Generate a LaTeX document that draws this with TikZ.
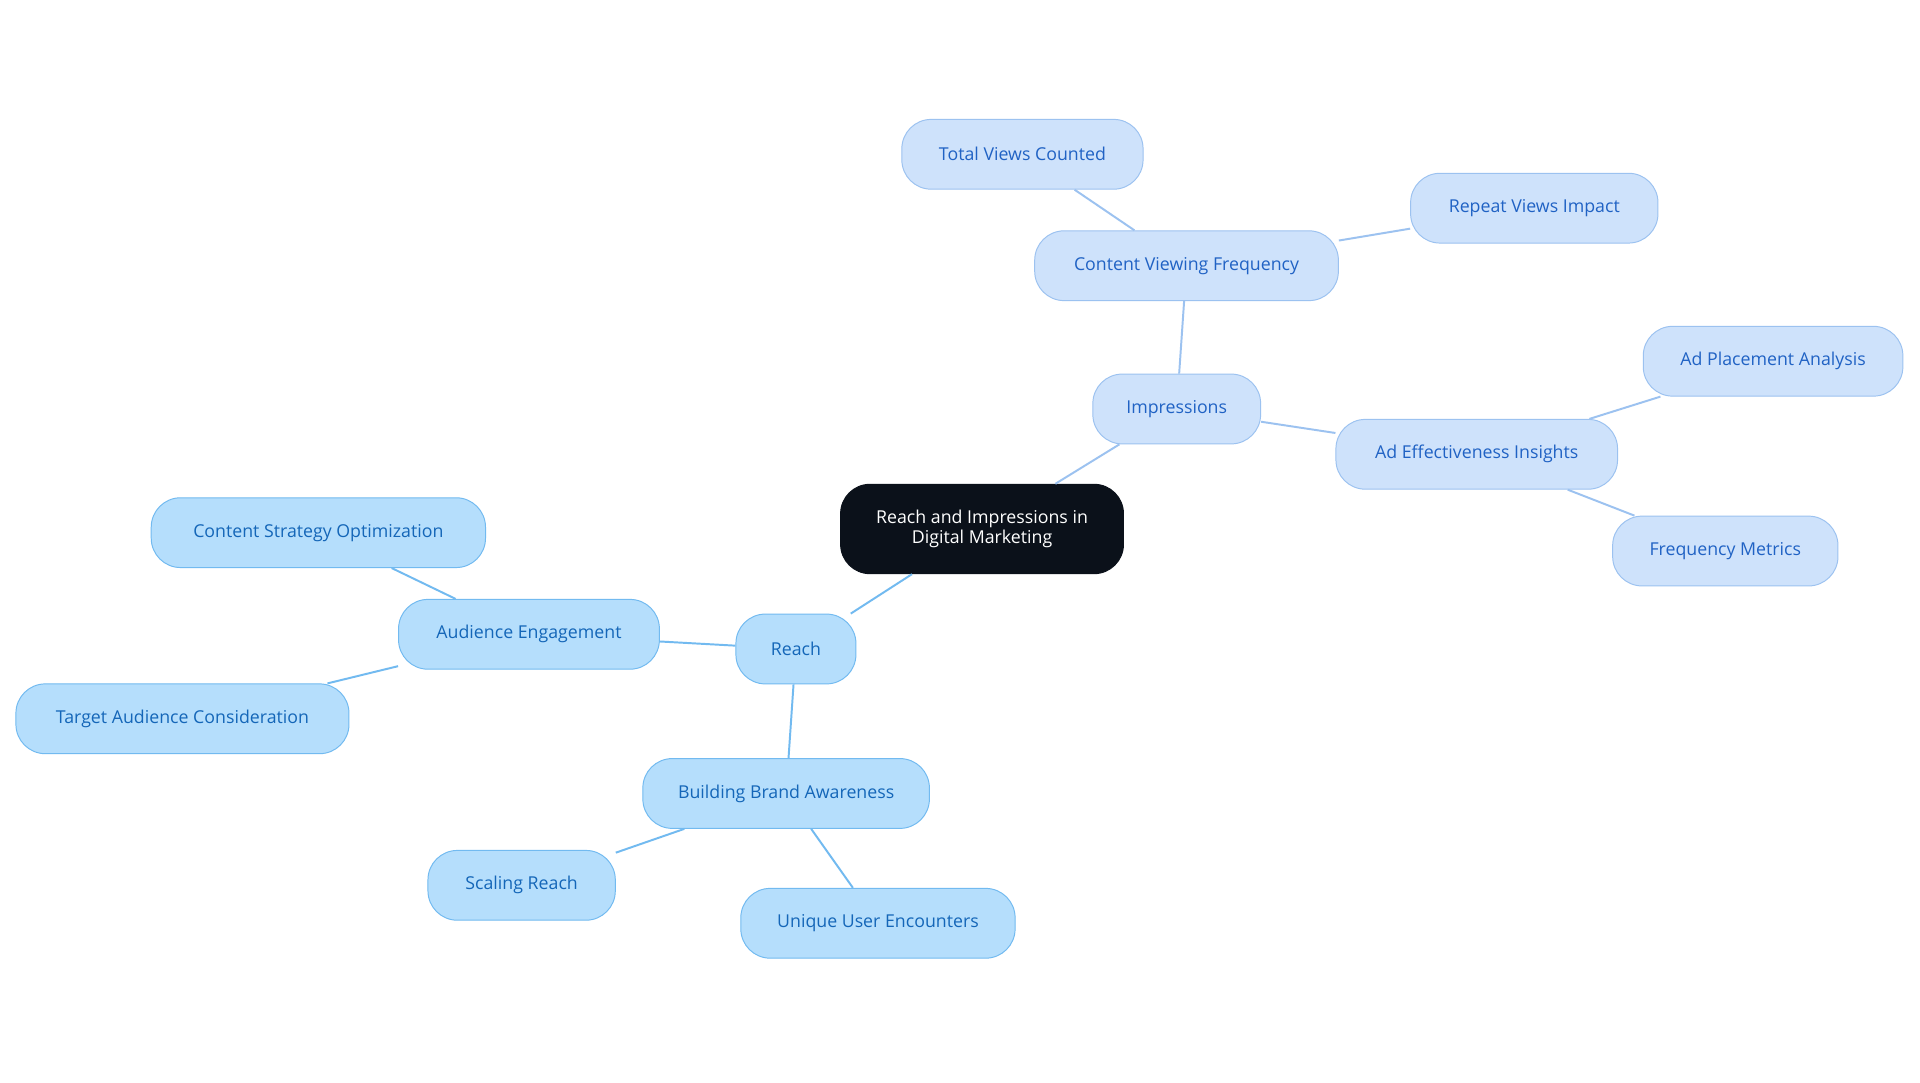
\documentclass[tikz,border=0pt]{standalone}
\usepackage{fontspec}
\setmainfont{Open Sans}
\definecolor{rfill}{HTML}{B5DEFC}
\definecolor{rdraw}{HTML}{72BAF0}
\definecolor{rtext}{HTML}{1466B8}
\definecolor{ifill}{HTML}{CEE2FB}
\definecolor{idraw}{HTML}{9CC2F0}
\definecolor{itext}{HTML}{2062C4}
\definecolor{rootc}{HTML}{0B111A}
\begin{document}
\begin{tikzpicture}[x=1pt,y=-1pt,
 base/.style={rounded corners=24pt,minimum height=57pt,line width=0.8pt,font=\fontsize{14.5}{16}\selectfont,inner sep=0pt},
 rn/.style={base,fill=rfill,draw=rdraw,text=rtext},
 im/.style={base,fill=ifill,draw=idraw,text=itext},
 rl/.style={draw=rdraw,line width=1.6pt},
 il/.style={draw=idraw,line width=1.6pt}]
\useasboundingbox[fill=white] (0,0) rectangle (1568,884);
\node[base,fill=rootc,draw=rootc,text=white,minimum width=231pt,minimum height=73pt,align=center,font=\fontsize{14.5}{16}\selectfont] (root) at (802,432) {Reach and Impressions in\\Digital Marketing};
\node[rn,minimum width=98pt] (reach) at (650,530) {Reach};
\node[rn,minimum width=213pt] (ae) at (432,518) {Audience Engagement};
\node[rn,minimum width=273pt] (cso) at (260,435) {Content Strategy Optimization};
\node[rn,minimum width=272pt] (tac) at (149,587) {Target Audience Consideration};
\node[rn,minimum width=234pt] (bba) at (642,648) {Building Brand Awareness};
\node[rn,minimum width=153pt] (sr) at (426,723) {Scaling Reach};
\node[rn,minimum width=224pt] (uue) at (717,754) {Unique User Encounters};
\node[im,minimum width=137pt] (imp) at (961,334) {Impressions};
\node[im,minimum width=248pt] (cvf) at (969,217) {Content Viewing Frequency};
\node[im,minimum width=197pt] (tvc) at (835,126) {Total Views Counted};
\node[im,minimum width=202pt] (rvi) at (1253,170) {Repeat Views Impact};
\node[im,minimum width=230pt] (aei) at (1206,371) {Ad Effectiveness Insights};
\node[im,minimum width=212pt] (apa) at (1448,295) {Ad Placement Analysis};
\node[im,minimum width=184pt] (fm) at (1409,450) {Frequency Metrics};
\begin{scope}[on background layer/.try]
\end{scope}
\draw[rl] (root) -- (reach);
\draw[rl] (reach) -- (ae);
\draw[rl] (ae) -- (cso);
\draw[rl] (ae) -- (tac);
\draw[rl] (reach) -- (bba);
\draw[rl] (bba) -- (sr);
\draw[rl] (bba) -- (uue);
\draw[il] (root) -- (imp);
\draw[il] (imp) -- (cvf);
\draw[il] (cvf) -- (tvc);
\draw[il] (cvf) -- (rvi);
\draw[il] (imp) -- (aei);
\draw[il] (aei) -- (apa);
\draw[il] (aei) -- (fm);
\end{tikzpicture}
\end{document}
